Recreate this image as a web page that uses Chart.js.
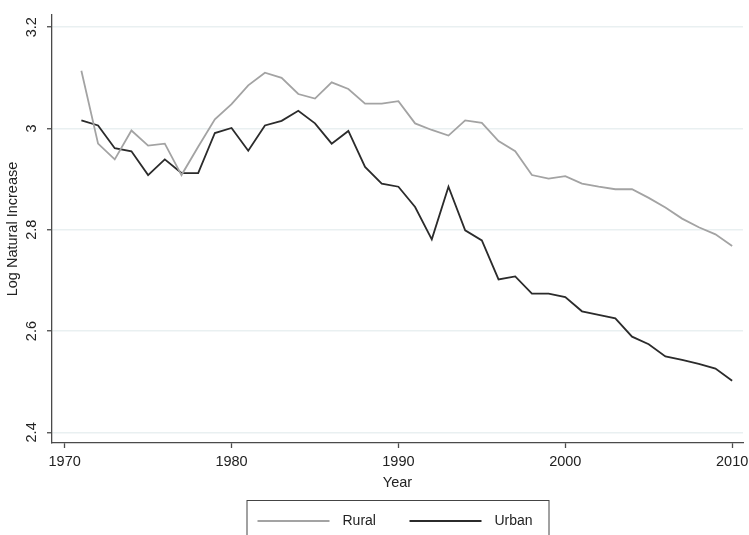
<!DOCTYPE html>
<html>
<head>
<meta charset="utf-8">
<script src="https://cdn.jsdelivr.net/npm/chart.js@4/dist/chart.umd.min.js"></script>
<style>
  html, body { margin: 0; padding: 0; background: #fff; }
</style>
</head>
<body>
<canvas id="grafico" width="749" height="535"></canvas>
<script>
// dados
const anos = [1971, 1972, 1973, 1974, 1975, 1976, 1977, 1978, 1979, 1980,
  1981, 1982, 1983, 1984, 1985, 1986, 1987, 1988, 1989, 1990,
  1991, 1992, 1993, 1994, 1995, 1996, 1997, 1998, 1999, 2000,
  2001, 2002, 2003, 2004, 2005, 2006, 2007, 2008, 2009, 2010];
const rural = [3.114, 2.970, 2.939, 2.996, 2.966, 2.970, 2.908, 2.964, 3.018, 3.048,
  3.085, 3.110, 3.100, 3.068, 3.059, 3.091, 3.078, 3.049, 3.049, 3.054,
  3.010, 2.997, 2.986, 3.016, 3.011, 2.975, 2.955, 2.908, 2.901, 2.906,
  2.891, 2.885, 2.880, 2.880, 2.863, 2.844, 2.822, 2.805, 2.791, 2.768];
const urbano = [3.016, 3.006, 2.961, 2.955, 2.908, 2.939, 2.912, 2.912, 2.991, 3.001,
  2.956, 3.006, 3.015, 3.035, 3.010, 2.970, 2.995, 2.924, 2.891, 2.885,
  2.845, 2.781, 2.885, 2.799, 2.779, 2.702, 2.708, 2.674, 2.674, 2.667,
  2.639, 2.632, 2.625, 2.589, 2.574, 2.550, 2.543, 2.535, 2.526, 2.502];
const ticksAno = [1970, 1980, 1990, 2000, 2010];
const ticksLog = [2.4, 2.6, 2.8, 3.0, 3.2];

const corEixo = '#4a4a4a';
const fonte = 'Liberation Sans, Arial, Helvetica, sans-serif';

// legenda com moldura, no estilo do Stata
const legendaCaixa = {
  id: 'legendaCaixa',
  afterDraw(chart) {
    const { ctx, chartArea } = chart;
    const centro = (chartArea.left + chartArea.right) / 2;
    const esq = centro - 151;
    const topo = 500;
    ctx.save();
    ctx.strokeStyle = '#444';
    ctx.lineWidth = 1;
    ctx.strokeRect(esq + 0.5, topo + 0.5, 302, 50);
    const itens = [
      { linha: 11, texto: 96 },
      { linha: 163, texto: 248 }
    ];
    chart.data.datasets.forEach((ds, i) => {
      const y = topo + 21;
      ctx.strokeStyle = ds.borderColor;
      ctx.lineWidth = 2;
      ctx.beginPath();
      ctx.moveTo(esq + itens[i].linha, y);
      ctx.lineTo(esq + itens[i].linha + 72, y);
      ctx.stroke();
      ctx.fillStyle = '#222';
      ctx.font = '14px ' + fonte;
      ctx.textBaseline = 'middle';
      ctx.fillText(ds.label, esq + itens[i].texto, y);
    });
    ctx.restore();
  }
};

new Chart(document.getElementById('grafico'), {
  type: 'line',
  data: {
    datasets: [
      {
        label: 'Rural',
        data: anos.map((a, i) => ({ x: a, y: rural[i] })),
        borderColor: '#a3a3a3',
        borderWidth: 1.8,
        pointRadius: 0,
        tension: 0
      },
      {
        label: 'Urban',
        data: anos.map((a, i) => ({ x: a, y: urbano[i] })),
        borderColor: '#2b2b2b',
        borderWidth: 1.8,
        pointRadius: 0,
        tension: 0
      }
    ]
  },
  options: {
    responsive: false,
    animation: false,
    devicePixelRatio: 1,
    layout: { padding: { top: 15, right: 6, bottom: 42, left: 0 } },
    plugins: {
      legend: { display: false },
      tooltip: { enabled: false }
    },
    scales: {
      x: {
        type: 'linear',
        min: 1969.24,
        max: 2010.65,
        afterBuildTicks: (s) => { s.ticks = ticksAno.map(v => ({ value: v })); },
        afterFit: (s) => { s.height = 50; s.paddingLeft = 0; s.paddingRight = 0; },
        border: { color: corEixo, width: 1.3 },
        grid: { color: 'rgba(0,0,0,0)', tickColor: corEixo, tickLength: 5, tickWidth: 1.3 },
        ticks: {
          color: '#222',
          font: { family: fonte, size: 14.5 },
          padding: 5,
          maxRotation: 0,
          callback: (v) => String(v)
        },
        title: {
          display: true,
          text: 'Year',
          color: '#222',
          font: { family: fonte, size: 14.5 },
          padding: { top: 0, bottom: 1 }
        }
      },
      y: {
        min: 2.379,
        max: 3.224,
        afterBuildTicks: (s) => { s.ticks = ticksLog.map(v => ({ value: v })); },
        afterFit: (s) => { s.width = 52; },
        border: { color: corEixo, width: 1.3 },
        grid: { color: '#e9f0f1', lineWidth: 1.5, tickColor: corEixo, tickLength: 5, tickWidth: 1.3 },
        ticks: {
          color: '#222',
          font: { family: fonte, size: 14.5 },
          padding: 5,
          minRotation: 90,
          maxRotation: 90,
          crossAlign: 'center',
          callback: (v) => String(+v.toFixed(1))
        },
        title: {
          display: true,
          text: 'Log Natural Increase',
          color: '#222',
          font: { family: fonte, size: 14.5 },
          padding: { top: 4, bottom: 0 }
        }
      }
    }
  },
  plugins: [legendaCaixa]
});
</script>
</body>
</html>
